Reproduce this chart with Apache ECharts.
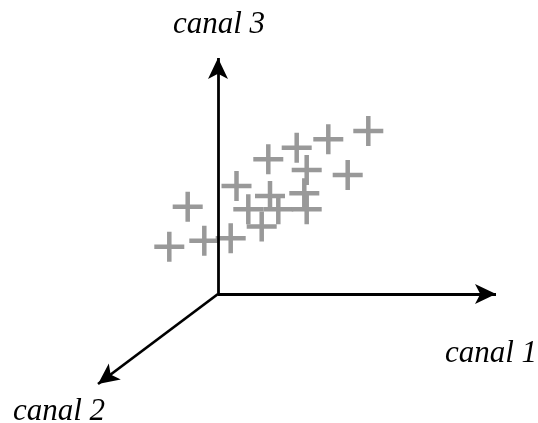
<!DOCTYPE html>
<html>
<head>
<meta charset="utf-8">
<script src="https://cdn.jsdelivr.net/npm/echarts@6/dist/echarts.min.js"></script>
<style>
html,body{margin:0;padding:0;background:#fff;}
#chart{width:538px;height:423px;}
</style>
</head>
<body>
<div id="chart"></div>
<script>
// Projected positions of the samples (canal 1 along x, canal 3 along y, canal 2 receding diagonally)
const pointX = [-48.7, -30.3, -13.7, 12.7, 18.5, 30.3, 43.7, 52, 50.3, 60.3, 78.7, 88.7, 86.3, 88.7, 110.3, 129.7, 150.3];
const pointY = [47.3, 87.3, 53.3, 55.7, 108, 84.7, 67.5, 98, 134.7, 84.7, 146.3, 124, 100.7, 84.7, 154.7, 119, 163];
// Axis end points (projected)
const axisNames = ['canal 1', 'canal 2', 'canal 3'];
const axisEndX = [278, -120, 0];
const axisEndY = [0, -90, 236];

const points = pointX.map((x, i) => [x, pointY[i]]);
const axisLines = axisEndX.map((x, i) => [{ coord: [0, 0] }, { coord: [x, axisEndY[i]] }]);

const chart = echarts.init(document.getElementById('chart'), null, { renderer: 'canvas' });
const labelStyle = { fontFamily: 'Liberation Serif', fontStyle: 'italic', fontSize: 31, fill: '#000' };
chart.setOption({
  backgroundColor: '#fff',
  animation: false,
  grid: { left: 0, right: 0, top: 0, bottom: 0 },
  xAxis: { type: 'value', min: -218, max: 320, show: false },
  yAxis: { type: 'value', min: -129, max: 294, show: false },
  series: [
    {
      type: 'scatter',
      data: points,
      symbol: 'path://M0,12.75H30V17.25H0Z M12.75,0H17.25V30H12.75Z',
      symbolSize: 30,
      itemStyle: { color: '#999999', opacity: 1 },
      z: 2
    },
    {
      type: 'line',
      data: [],
      z: 10,
      markLine: {
        silent: true,
        symbol: ['none', 'arrow'],
        symbolSize: [15, 21],
        lineStyle: { color: '#000', width: 2.8, type: 'solid' },
        label: { show: false },
        data: axisLines
      }
    }
  ],
  graphic: [
    { type: 'text', left: 445, top: 338, style: Object.assign({ text: axisNames[0] }, labelStyle) },
    { type: 'text', left: 13, top: 396, style: Object.assign({ text: axisNames[1] }, labelStyle) },
    { type: 'text', left: 173, top: 9, style: Object.assign({ text: axisNames[2] }, labelStyle) }
  ]
});
</script>
</body>
</html>
